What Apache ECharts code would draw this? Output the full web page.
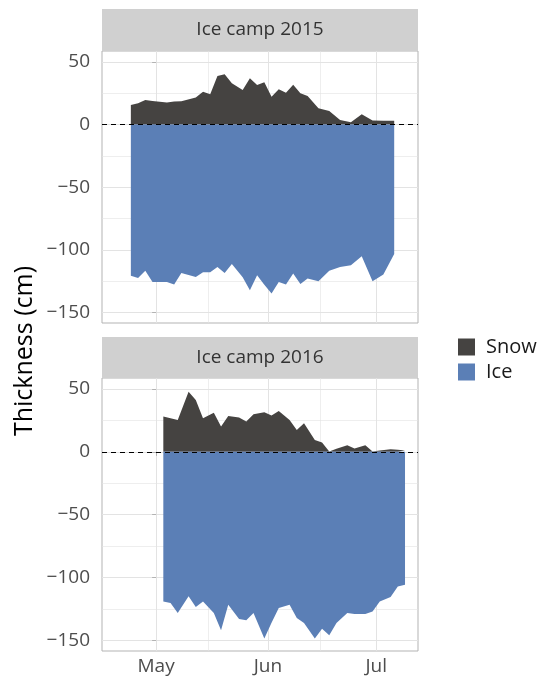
<!DOCTYPE html>
<html>
<head>
<meta charset="utf-8">
<script src="https://cdn.jsdelivr.net/npm/echarts@6/dist/echarts.min.js"></script>
<style>html,body{margin:0;padding:0;background:#fff;}#chart{width:539px;height:681px;}</style>
</head>
<body>
<div id="chart"></div>
<script>
// Dates as MM-DD, converted to day offset from 1 May
var dates2015 = ['04-24','04-26','04-28','04-30','05-04','05-06','05-08','05-12','05-14','05-16','05-18','05-20','05-22','05-25','05-27','05-29','05-31','06-02','06-04','06-06','06-08','06-10','06-12','06-15','06-18','06-21','06-24','06-27','06-30','07-03','07-06'];
var snow2015 = [15.7,17,19.7,18.8,17.6,18.4,18.6,21.6,26.3,24.2,38.8,40.2,33,27.7,37,31.7,33.8,22.3,28.2,25.5,31.9,25,22.9,13,10.9,3.7,1.9,8.3,3.2,3,3];
var ice2015 = [-120.7,-122.5,-116.7,-125.7,-125.7,-127.8,-118.5,-121.7,-118,-118,-113.7,-118.5,-111.3,-122,-132.4,-120.4,-128,-135,-125.7,-127.8,-119,-127.3,-123,-125.2,-116.7,-113.7,-112.4,-105.2,-125.2,-119.8,-103.4];

var dates2016 = ['05-03','05-05','05-07','05-10','05-12','05-14','05-17','05-19','05-21','05-24','05-26','05-28','05-31','06-02','06-04','06-07','06-09','06-11','06-14','06-16','06-18','06-20','06-23','06-25','06-28','06-30','07-02','07-05','07-07','07-09'];
var snow2016 = [28.1,26.8,25.4,47.9,41.3,26.8,31.2,20.1,28.6,27.3,24.1,30,31.5,28.9,32.6,25.4,17.5,22.8,9.5,7.4,0.3,2.4,5.3,2.6,5.3,0.3,1,2.1,1.7,1];
var ice2016 = [-119,-120.3,-128.2,-115,-123.5,-119,-128.2,-142,-121.6,-133,-134.1,-128.2,-148.6,-136,-124.3,-121.6,-132.2,-136.2,-148.6,-140.7,-146,-136.2,-128.2,-129,-129,-127,-119,-115.5,-107.1,-105.7];

var panelTitles = ['Ice camp 2015', 'Ice camp 2016'];
var seriesNames = ['Snow', 'Ice'];
var yTicks = [-150, -100, -50, 0, 50];
var yMinor = [-125, -75, -25, 25];
var monthLabels = ['May', 'Jun', 'Jul'];
var monthStarts = ['05-01', '06-01', '07-01'];
var monthMids = ['05-16', '06-16'];

function dayOffset(mmdd) {
  var p = mmdd.split('-');
  var m = +p[0], d = +p[1];
  var cum = {4: -30, 5: 0, 6: 31, 7: 61};
  return cum[m] + d - 1;
}
var majorX = monthStarts.map(dayOffset);
var minorX = monthMids.map(function (s) { return dayOffset(s) - 0.5; });

function pairs(dates, vals) {
  return dates.map(function (d, i) { return [dayOffset(d), vals[i]]; });
}

var FONT = 'Open Sans';
var colors = { Snow: '#454341', Ice: '#5b7fb6' };
var gridBox = [
  { left: 102, top: 51, width: 316, height: 272 },
  { left: 102, top: 378, width: 316, height: 273 }
];
var stripBox = [
  { x: 102, y: 9, h: 42 },
  { x: 102, y: 337, h: 41 }
];

var grids = [], xAxes = [], yAxes = [], series = [], graphics = [];
var panels = [
  { snow: pairs(dates2015, snow2015), ice: pairs(dates2015, ice2015) },
  { snow: pairs(dates2016, snow2016), ice: pairs(dates2016, ice2016) }
];

panels.forEach(function (p, i) {
  var last = i === panels.length - 1;
  grids.push(Object.assign({ show: true, borderColor: '#b3b3b3', borderWidth: 1, backgroundColor: '#fff' }, gridBox[i]));
  xAxes.push({
    type: 'value', gridIndex: i, min: -15, max: 72.6,
    axisLine: { show: false },
    splitLine: { show: false },
    axisTick: { show: last, length: 4, lineStyle: { color: '#b3b3b3' }, customValues: majorX },
    axisLabel: {
      show: last, customValues: majorX, margin: 6,
      fontFamily: FONT, fontSize: 19, color: '#4d4d4d',
      formatter: function (v) { var k = majorX.indexOf(v); return k >= 0 ? monthLabels[k] : ''; }
    }
  });
  yAxes.push({
    type: 'value', gridIndex: i, min: -158.5, max: 58.8,
    axisLine: { show: false },
    splitLine: { show: false },
    axisTick: { show: true, length: 4, lineStyle: { color: '#b3b3b3' }, customValues: yTicks },
    axisLabel: {
      customValues: yTicks, margin: 12,
      fontFamily: FONT, fontSize: 19, color: '#4d4d4d',
      formatter: function (v) { return v < 0 ? '\u2212' + Math.abs(v) : String(v); }
    }
  });
  // grid lines
  var gl = [];
  yTicks.forEach(function (v) { gl.push({ yAxis: v, lineStyle: { width: 1 } }); });
  yMinor.forEach(function (v) { gl.push({ yAxis: v, lineStyle: { width: 0.6 } }); });
  majorX.forEach(function (v) { gl.push({ xAxis: v, lineStyle: { width: 1 } }); });
  minorX.forEach(function (v) { gl.push({ xAxis: v, lineStyle: { width: 0.6 } }); });
  series.push({
    type: 'line', xAxisIndex: i, yAxisIndex: i, data: [], z: 0, silent: true,
    markLine: { silent: true, z: 0, symbol: 'none', label: { show: false }, animation: false,
      lineStyle: { color: '#e3e3e3', type: 'solid' }, data: gl }
  });
  ['snow', 'ice'].forEach(function (key, k) {
    var name = seriesNames[k];
    series.push({
      name: name, type: 'line', xAxisIndex: i, yAxisIndex: i,
      data: p[key], symbol: 'none', z: 2, color: colors[name],
      lineStyle: { width: 0 },
      areaStyle: { color: colors[name], opacity: 1 }
    });
  });
  series.push({
    type: 'line', xAxisIndex: i, yAxisIndex: i, data: [], z: 5, silent: true,
    markLine: { silent: true, z: 6, symbol: 'none', label: { show: false }, animation: false,
      lineStyle: { color: '#000', type: [5, 4], width: 1.1 }, data: [{ yAxis: 0 }] }
  });
  graphics.push({
    type: 'rect', shape: { x: stripBox[i].x, y: stripBox[i].y, width: gridBox[i].width, height: stripBox[i].h },
    style: { fill: '#d0d0d0' }, silent: true
  });
  graphics.push({
    type: 'text', x: stripBox[i].x + gridBox[i].width / 2, y: stripBox[i].y + stripBox[i].h / 2,
    style: { text: panelTitles[i], fill: '#333333', fontFamily: FONT, fontSize: 19, align: 'center', verticalAlign: 'middle' },
    silent: true
  });
});

graphics.push({
  type: 'text', x: 25, y: 351, rotation: Math.PI / 2,
  style: { text: 'Thickness (cm)', fill: '#000', fontFamily: FONT, fontSize: 25, align: 'center', verticalAlign: 'middle' },
  silent: true
});

var chart = echarts.init(document.getElementById('chart'), null, { renderer: 'canvas' });
chart.setOption({
  animation: false,
  backgroundColor: '#fff',
  grid: grids,
  xAxis: xAxes,
  yAxis: yAxes,
  legend: {
    data: seriesNames, orient: 'vertical', left: 458, top: 337, padding: 0,
    icon: 'rect', itemWidth: 17, itemHeight: 17, itemGap: 5,
    textStyle: { fontFamily: FONT, fontSize: 20, lineHeight: 17, color: '#1a1a1a', padding: [0, 0, 0, 6] }
  },
  graphic: graphics,
  series: series
});
</script>
</body>
</html>
